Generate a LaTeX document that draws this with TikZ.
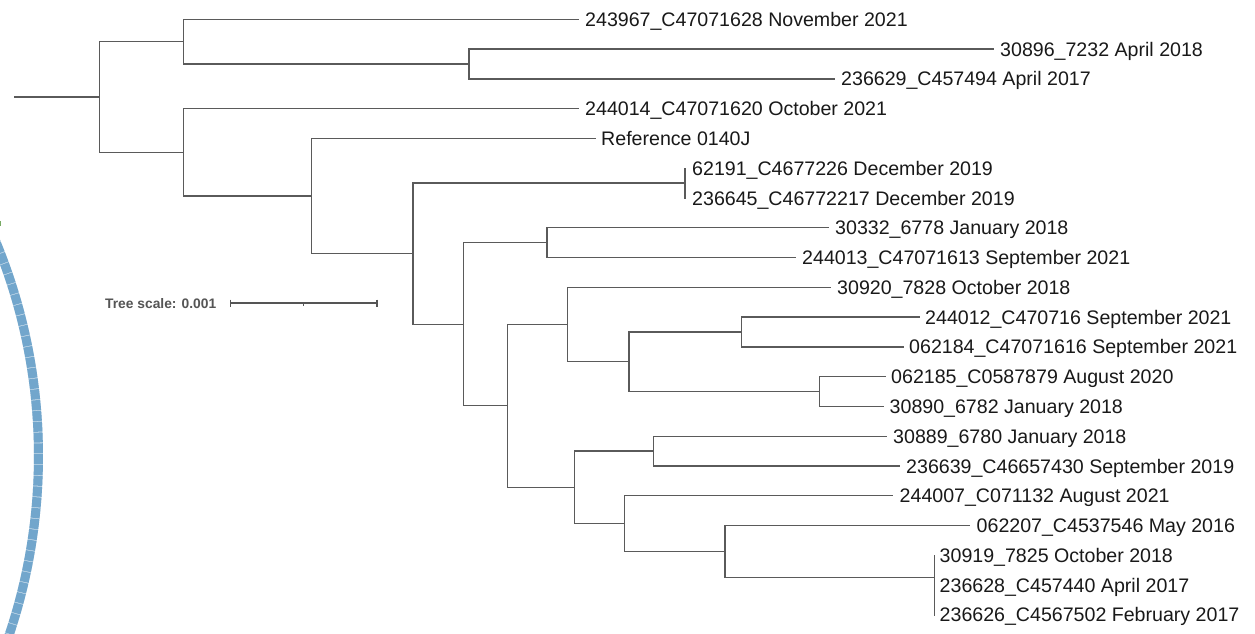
\documentclass[tikz,border=0pt]{standalone}
\usepackage{fontspec}
\setmainfont{Liberation Sans}
\usetikzlibrary{positioning}
\definecolor{branchgray}{RGB}{90,90,90}
\definecolor{labeltext}{RGB}{25,25,25}
\definecolor{scalegray}{RGB}{85,85,85}
\definecolor{ringblue}{RGB}{114,166,204}
\definecolor{ringlight}{RGB}{205,222,236}
\definecolor{speckgreen}{RGB}{120,170,100}
\tikzset{
  branch/.style={draw=branchgray, line width=1.3pt, line cap=rect},
  leaflabel/.style={anchor=west, inner xsep=0pt, inner ysep=0pt, text height=14pt, text depth=0pt,
    font=\fontsize{19.6pt}{22pt}\selectfont, text=labeltext},
  scaletext/.style={anchor=west, inner xsep=0pt, inner ysep=0pt, text height=10pt, text depth=0pt,
    font=\fontsize{13.8pt}{16pt}\selectfont\bfseries, text=scalegray},
  scalebar/.style={draw=scalegray, line width=1.1pt},
}
\begin{document}
\begin{tikzpicture}[x=1pt,y=-1pt]
\useasboundingbox (0,0) rectangle (1255,634);
\fill[white] (0,0) rectangle (1255,634);

% ring segment on the left
\begin{scope}
\clip (0,0) rectangle (1255,634);
\draw[ringlight, line width=9pt] plot[domain=-30:25, samples=120] ({-522+560.5*cos(\x)},{456+560.5*sin(\x)});
\draw[ringblue, line width=9pt, dash pattern=on 10pt off 0.8pt] plot[domain=-30:25, samples=120] ({-522+560.5*cos(\x)},{456+560.5*sin(\x)});
\fill[speckgreen] (0,221) rectangle (1.4,225.5);
\end{scope}

% leaf tips
\coordinate (t1) at (578,19.3);
\coordinate (t2) at (993,49.1);
\coordinate (t3) at (834,78.9);
\coordinate (t4) at (578,108.6);
\coordinate (t5) at (595,138.4);
\coordinate (t6) at (685,168.2);
\coordinate (t7) at (685,198.0);
\coordinate (t8) at (828,227.8);
\coordinate (t9) at (795,257.5);
\coordinate (t10) at (830,287.3);
\coordinate (t11) at (919,317.1);
\coordinate (t12) at (903,346.9);
\coordinate (t13) at (885,376.7);
\coordinate (t14) at (883.5,406.4);
\coordinate (t15) at (886,436.2);
\coordinate (t16) at (899,466.0);
\coordinate (t17) at (892.5,495.8);
\coordinate (t18) at (969.5,525.6);
\coordinate (t19) at (934.5,555.3);
\coordinate (t20) at (934.5,585.1);
\coordinate (t21) at (934.5,614.9);

% internal nodes
\coordinate (r0) at (15,97);
\coordinate (root) at (99.3,97);
\coordinate (A) at (183.5,41.7);
\coordinate (B) at (469,64.0);
\coordinate (C) at (183.5,152.3);
\coordinate (D) at (311.7,196.0);
\coordinate (E) at (413,253.6);
\coordinate (F) at (685,183.1);
\coordinate (G) at (463.7,324.2);
\coordinate (H) at (547,242.6);
\coordinate (I) at (507.5,405.8);
\coordinate (J) at (567.7,324.4);
\coordinate (K) at (574.7,487.3);
\coordinate (L) at (629,361.5);
\coordinate (M) at (741.7,332.0);
\coordinate (N) at (819.5,391.5);
\coordinate (O) at (653.7,451.1);
\coordinate (P) at (624.3,523.6);
\coordinate (Q) at (725,551.5);
\coordinate (R) at (934.5,577.3);
\coordinate (S) at (934.5,600.0);

% branches
\draw[branch] (r0) -- (root);
\draw[branch] (root) |- (A);
\draw[branch] (root) |- (C);
\draw[branch] (A) |- (t1);
\draw[branch] (A) |- (B);
\draw[branch] (B) |- (t2);
\draw[branch] (B) |- (t3);
\draw[branch] (C) |- (t4);
\draw[branch] (C) |- (D);
\draw[branch] (D) |- (t5);
\draw[branch] (D) |- (E);
\draw[branch] (E) |- (F);
\draw[branch] (E) |- (G);
\draw[branch] (F) |- (t6);
\draw[branch] (F) |- (t7);
\draw[branch] (G) |- (H);
\draw[branch] (G) |- (I);
\draw[branch] (H) |- (t8);
\draw[branch] (H) |- (t9);
\draw[branch] (I) |- (J);
\draw[branch] (I) |- (K);
\draw[branch] (J) |- (t10);
\draw[branch] (J) |- (L);
\draw[branch] (L) |- (M);
\draw[branch] (L) |- (N);
\draw[branch] (M) |- (t11);
\draw[branch] (M) |- (t12);
\draw[branch] (N) |- (t13);
\draw[branch] (N) |- (t14);
\draw[branch] (K) |- (O);
\draw[branch] (K) |- (P);
\draw[branch] (O) |- (t15);
\draw[branch] (O) |- (t16);
\draw[branch] (P) |- (t17);
\draw[branch] (P) |- (Q);
\draw[branch] (Q) |- (t18);
\draw[branch] (Q) |- (R);
\draw[branch] (R) |- (t19);
\draw[branch] (R) |- (S);
\draw[branch] (S) |- (t20);
\draw[branch] (S) |- (t21);

% leaf labels
\node[leaflabel, right=7pt of t1] (l1) {243967\_C47071628 November 2021};
\node[leaflabel, right=7pt of t2] (l2) {30896\_7232 April 2018};
\node[leaflabel, right=7pt of t3] (l3) {236629\_C457494 April 2017};
\node[leaflabel, right=7pt of t4] (l4) {244014\_C47071620 October 2021};
\node[leaflabel, right=6pt of t5] (l5) {Reference 0140J};
\node[leaflabel, right=7pt of t6] (l6) {62191\_C4677226 December 2019};
\node[leaflabel, right=7pt of t7] (l7) {236645\_C46772217 December 2019};
\node[leaflabel, right=7pt of t8] (l8) {30332\_6778 January 2018};
\node[leaflabel, right=7pt of t9] (l9) {244013\_C47071613 September 2021};
\node[leaflabel, right=7pt of t10] (l10) {30920\_7828 October 2018};
\node[leaflabel, right=6pt of t11] (l11) {244012\_C470716 September 2021};
\node[leaflabel, right=6pt of t12] (l12) {062184\_C47071616 September 2021};
\node[leaflabel, right=6pt of t13] (l13) {062185\_C0587879 August 2020};
\node[leaflabel, right=6pt of t14] (l14) {30890\_6782 January 2018};
\node[leaflabel, right=7pt of t15] (l15) {30889\_6780 January 2018};
\node[leaflabel, right=7pt of t16] (l16) {236639\_C46657430 September 2019};
\node[leaflabel, right=7pt of t17] (l17) {244007\_C071132 August 2021};
\node[leaflabel, right=7pt of t18] (l18) {062207\_C4537546 May 2016};
\node[leaflabel, right=5pt of t19] (l19) {30919\_7825 October 2018};
\node[leaflabel, right=5pt of t20] (l20) {236628\_C457440 April 2017};
\node[leaflabel, right=5pt of t21] (l21) {236626\_C4567502 February 2017};

% tree scale
\node[scaletext] (scalelabel) at (105,303) {Tree scale: 0.001};
\coordinate (sb1) at (230.7,303);
\coordinate (sb2) at (377,303);
\coordinate (sbm) at (303.8,303);
\draw[scalebar] (sb1) -- (sb2);
\draw[scalebar] ([yshift=3.5pt]sb1) -- ([yshift=-3.5pt]sb1);
\draw[scalebar] ([yshift=3.5pt]sb2) -- ([yshift=-3.5pt]sb2);
\draw[scalebar] (sbm) -- ([yshift=-2.5pt]sbm);
\end{tikzpicture}
\end{document}
